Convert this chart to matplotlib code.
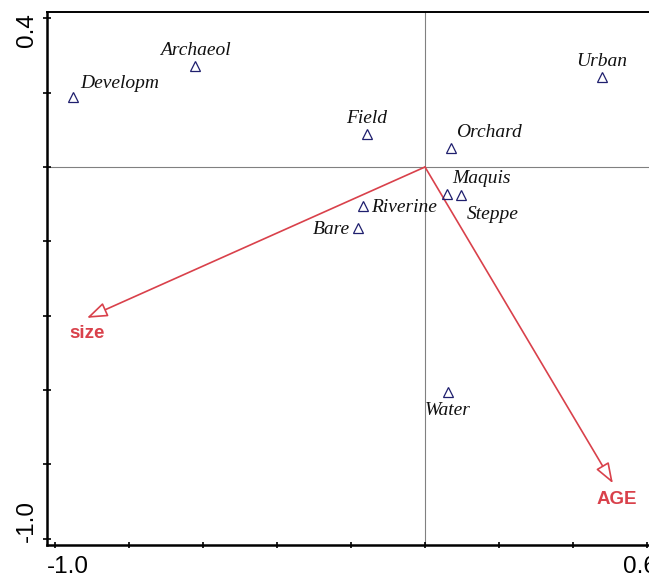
import matplotlib
matplotlib.use("Agg")
import matplotlib.pyplot as plt

# sample (site type) scores
sites = ["Developm", "Archaeol", "Field", "Orchard", "Urban",
         "Maquis", "Steppe", "Riverine", "Bare", "Water"]
site_x = [-0.951, -0.622, -0.157, 0.070, 0.478, 0.059, 0.097, -0.168, -0.181, 0.062]
site_y = [0.188, 0.272, 0.089, 0.051, 0.242, -0.073, -0.075, -0.105, -0.164, -0.606]

# environmental variable arrows
env_names = ["size", "AGE"]
env_x = [-0.914, 0.508]
env_y = [-0.406, -0.851]

red = "#d9414b"
navy = "#1f1f6e"

fig = plt.figure(figsize=(6.49, 5.82), dpi=100)
ax = fig.add_axes([0.0724, 0.0636, 0.9415, 0.9158])
ax.set_xlim(-1.022, 0.63)
ax.set_ylim(-1.017, 0.417)

ax.axhline(0, color="#808080", lw=0.8, zorder=1)
ax.axvline(0, color="#808080", lw=0.8, zorder=1)

ax.plot(site_x, site_y, linestyle="none", marker="^", markersize=7,
        markerfacecolor="none", markeredgecolor=navy, markeredgewidth=0.9, zorder=3)

# label offsets in points (dx, dy) and alignment
offsets = {
    "Developm": (5, 10, "left"),
    "Archaeol": (0, 11, "center"),
    "Field": (0, 11, "center"),
    "Orchard": (4, 11, "left"),
    "Urban": (0, 11, "center"),
    "Maquis": (4, 11, "left"),
    "Steppe": (4, -14, "left"),
    "Riverine": (6, -1, "left"),
    "Bare": (-6, -1, "right"),
    "Water": (0, -13, "center"),
}
for name, x, y in zip(sites, site_x, site_y):
    dx, dy, ha = offsets[name]
    ax.annotate(name, (x, y), xytext=(dx, dy), textcoords="offset points",
                ha=ha, va="center", fontsize=14, style="italic",
                family="Liberation Serif", color="#111111", zorder=4)

for name, x, y in zip(env_names, env_x, env_y):
    ax.annotate("", xy=(x, y), xytext=(0, 0),
                arrowprops=dict(arrowstyle="-|>,head_length=1.25,head_width=0.45",
                                fc="white", ec=red, lw=1.2, shrinkA=0, shrinkB=0),
                zorder=2)
ax.annotate("size", (env_x[0], env_y[0]), xytext=(0, -11), textcoords="offset points",
            ha="center", va="center", fontsize=13.5, fontweight="bold",
            family="Liberation Sans", color=red)
ax.annotate("AGE", (env_x[1], env_y[1]), xytext=(3, -12), textcoords="offset points",
            ha="center", va="center", fontsize=13.5, fontweight="bold",
            family="Liberation Sans", color=red)

# axes styling
for side in ["left", "bottom"]:
    ax.spines[side].set_linewidth(1.8)
ax.spines["top"].set_linewidth(1.4)
ax.spines["right"].set_visible(False)

ticks_x = [-1.0, -0.8, -0.6, -0.4, -0.2, 0.0, 0.2, 0.4, 0.6]
ticks_y = [-1.0, -0.8, -0.6, -0.4, -0.2, 0.0, 0.2, 0.4]
ax.set_xticks(ticks_x)
ax.set_yticks(ticks_y)
ax.set_xticklabels([])
ax.set_yticklabels([])
ax.tick_params(axis="x", direction="inout", length=4.5, width=1.2)
ax.tick_params(axis="y", direction="inout", length=6, width=1.2)

# end labels kept inside the axis extent, as in the original
lab_kw = dict(xycoords="axes fraction", textcoords="offset points",
              fontsize=17.5, family="Liberation Sans", color="black")
ax.annotate("-1.0", (0, 0), xytext=(0, -8), ha="left", va="top", **lab_kw)
ax.annotate("0.6", (1, 0), xytext=(-1, -8), ha="right", va="top", **lab_kw)
ax.annotate("-1.0", (0, 0), xytext=(-10, 2), ha="left", va="baseline",
            rotation=90, rotation_mode="anchor", **lab_kw)
ax.annotate("0.4", (0, 1), xytext=(-10, -1), ha="right", va="baseline",
            rotation=90, rotation_mode="anchor", **lab_kw)

fig.savefig("out.png", dpi=100)
